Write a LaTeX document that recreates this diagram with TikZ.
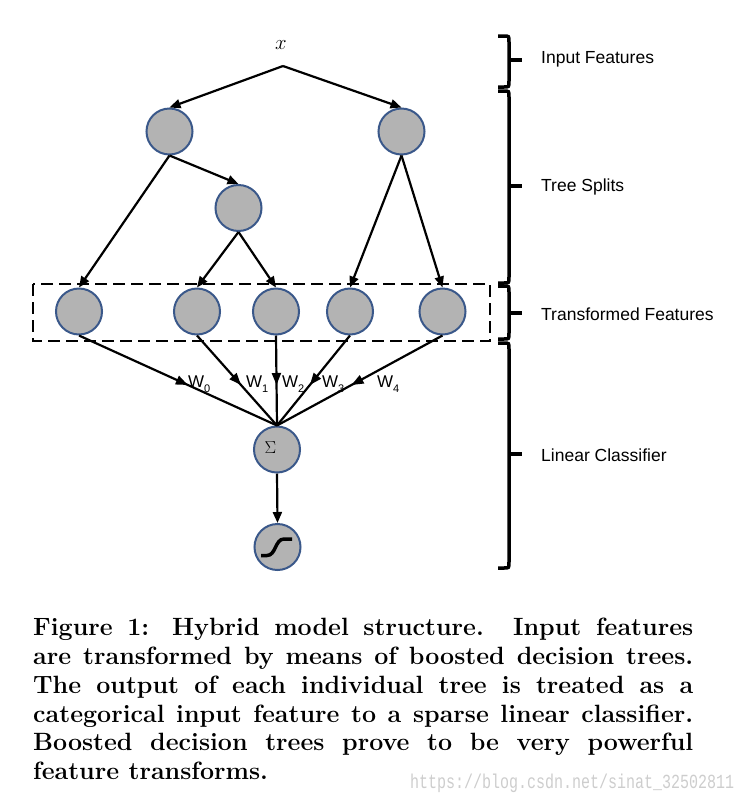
\documentclass[tikz,border=0pt]{standalone}
\usepackage{fontspec}
\usetikzlibrary{arrows.meta,decorations.markings}
\newfontfamily\labelfont{Liberation Sans}
\newfontfamily\wmfont[FakeStretch=0.75]{Liberation Mono}
\definecolor{nodefill}{RGB}{179,179,179}
\definecolor{nodeedge}{RGB}{58,88,138}
\definecolor{wmgray}{RGB}{205,205,205}
\newcommand\wsub[1]{\raisebox{-5pt}{\fontsize{11}{11}\selectfont #1}}
\newcommand\sidebrace[3]{%
  \draw[bracestyle] (498,#1) -- (504,#1) .. controls (509,#1) .. (509,#1+6) -- (509,#2-6) .. controls (509,#2) .. (504,#2) -- (498,#2);
  \draw[bracestyle] (509,#3) -- (522,#3);}
\begin{document}
\begin{tikzpicture}[x=1pt,y=-1pt,
  feat/.style={circle, minimum size=46pt, inner sep=0pt, fill=nodefill, draw=nodeedge, line width=2pt},
  edge/.style={line width=2.2pt, -{Triangle[length=11pt,width=9pt]}},
  wedge/.style={line width=2.2pt, postaction={decorate},
    decoration={markings, mark=at position 0.55 with {\arrow{Triangle[length=12pt,width=9pt]}}}},
  bracestyle/.style={line width=3.5pt},
  sidelabel/.style={anchor=west, inner sep=0pt, font=\labelfont\fontsize{17.5}{20}\selectfont},
  wlabel/.style={anchor=base west, inner sep=0pt, font=\labelfont\fontsize{17}{19}\selectfont},
  dashbox/.style={line width=2.5pt, dash pattern=on 12pt off 6pt}
]
\useasboundingbox (0,0) rectangle (748,804);

% input
\node[inner sep=0pt, font=\fontsize{22}{22}\selectfont] (X) at (281,45) {$x$};
\coordinate (br) at (283,66);

% tree nodes
\node[feat] (L1) at (169.5,131.5) {};
\node[feat] (R1) at (401.5,131.5) {};
\node[feat] (M)  at (238.5,208) {};
\node[feat] (b1) at (79,311.5) {};
\node[feat] (b2) at (197,311.5) {};
\node[feat] (b3) at (276,311.5) {};
\node[feat] (b4) at (350,311.5) {};
\node[feat] (b5) at (442.5,311.5) {};
\node[feat] (sig) at (277,449.5) {};
\node[inner sep=0pt, font=\fontsize{17}{17}\selectfont] (sigsym) at (270.5,447.5) {$\Sigma$};
\node[feat] (sg) at (277.5,547) {};

% sigmoid glyph
\draw[line width=3.5pt] (261,555.5) -- (267,555.5) .. controls (276,555.5) and (275,539) .. (284,539) -- (292,539);

% dashed box
\draw[dashbox] (33,284) rectangle (490,341);

% tree edges
\draw[edge] (br) -- (L1.north);
\draw[edge] (br) -- (R1.north);
\draw[edge] (L1.south) -- (b1.north);
\draw[edge] (L1.south) -- (M.north);
\draw[edge] (M.south) -- (b2.north);
\draw[edge] (M.south) -- (b3.north);
\draw[edge] (R1.south) -- (b4.north);
\draw[edge] (R1.south) -- (b5.north);

% weights
\draw[wedge] (b1.south) -- (sig.north);
\draw[wedge] (b2.south) -- (sig.north);
\draw[wedge] (b3.south) -- (sig.north);
\draw[wedge] (b4.south) -- (sig.north);
\draw[wedge] (b5.south) -- (sig.north);
\node[wlabel] (w0) at (188,387) {W\wsub{0}};
\node[wlabel] (w1) at (246,387) {W\wsub{1}};
\node[wlabel] (w2) at (282,387) {W\wsub{2}};
\node[wlabel] (w3) at (322,387) {W\wsub{3}};
\node[wlabel] (w4) at (377,387) {W\wsub{4}};

\draw[edge] (sig.south) -- (sg.north);

% braces
\sidebrace{36}{87}{60}
\sidebrace{91}{283}{186}
\sidebrace{286}{339}{313}
\sidebrace{343}{568}{454}
\node[sidelabel] (t1) at (541,59) {Input Features};
\node[sidelabel] (t2) at (541,187) {Tree Splits};
\node[sidelabel] (t3) at (541,314) {Transformed Features};
\node[sidelabel] (t4) at (541,455) {Linear Classifier};

% caption
\node[anchor=north west, text width=660pt, inner sep=0pt, align=justify,
  font=\fontsize{25}{28.8}\selectfont\bfseries] (cap) at (33,618)
  {Figure 1: Hybrid model structure.\ \ Input features\linebreak
   are transformed by means of boosted decision trees.\linebreak
   The output of each individual tree is treated as a\linebreak
   categorical input feature to a sparse linear classifier.\linebreak
   Boosted decision trees prove to be very powerful\linebreak
   feature transforms.};
\node[anchor=west, inner sep=0pt, text=wmgray, font=\wmfont\fontsize{20}{20}\selectfont] (wm) at (410,783) {https://blog.csdn.net/sinat\_32502811};
\end{tikzpicture}
\end{document}
